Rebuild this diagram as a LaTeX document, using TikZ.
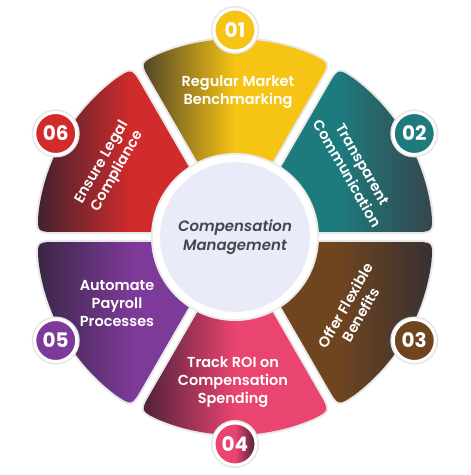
\documentclass[tikz,border=0pt]{standalone}
\usepackage{fontspec}
\setmainfont{Poppins}[UprightFont=* SemiBold, BoldFont=* Bold, ItalicFont=* SemiBold Italic, BoldItalicFont=* Bold Italic]
\usetikzlibrary{calc}
\definecolor{c1}{HTML}{F6C414}\definecolor{c1d}{HTML}{4E4328}
\definecolor{c2}{HTML}{1D7B7D}\definecolor{c2d}{HTML}{36454D}
\definecolor{c3}{HTML}{6F4520}\definecolor{c3d}{HTML}{383032}
\definecolor{c4}{HTML}{EA4470}\definecolor{c4d}{HTML}{4B2038}
\definecolor{c5}{HTML}{7D3A99}\definecolor{c5d}{HTML}{3A2646}
\definecolor{c6}{HTML}{D22B2B}\definecolor{c6d}{HTML}{40222E}
\definecolor{corefill}{HTML}{E9ECF8}
\definecolor{coretext}{HTML}{45474F}
\newcommand\petalshape[2]{%
  \path[#2] (#1:10pt) -- ($({#1-28.55}:198pt)+({#1+150}:20pt)$)
    .. controls ({#1-28.55}:198pt) .. ({#1-22.8}:198pt)
    arc[start angle={#1-22.8}, end angle={#1+22.8}, radius=198pt]
    .. controls ({#1+28.55}:198pt) .. ($({#1+28.55}:198pt)+({#1+210}:20pt)$)
    -- cycle;}
\begin{document}
\begin{tikzpicture}[x=1pt,y=1pt,
  ptext/.style={text=white, align=center, font=\fontsize{14.5}{18}\selectfont},
  numnode/.style={circle, draw=white, line width=3pt, minimum size=42pt, inner sep=0pt,
    text=white, font=\bfseries\fontsize{20}{20}\selectfont,
    preaction={draw=black!10, line width=6pt}},
  halo/.style={preaction={draw=black!9, line width=4pt}}]
\useasboundingbox (-235,-238) rectangle (236,237);
\fill[white] (-235,-238) rectangle (236,237);
\petalshape{90}{halo, left color=c1d, right color=c1, middle color=c1}
\petalshape{30}{halo, left color=c2, right color=c2d, middle color=c2}
\petalshape{-30}{halo, left color=c3, right color=c3d, middle color=c3}
\petalshape{-90}{halo, left color=c4d, right color=c4, middle color=c4}
\petalshape{-150}{halo, left color=c5d, right color=c5, middle color=c5}
\petalshape{150}{halo, left color=c6d, right color=c6, middle color=c6}
\node[circle, fill=corefill, draw=white, line width=7pt, minimum size=157pt,
  preaction={draw=black!8, line width=11pt}, text=coretext, align=center,
  font=\itshape\fontsize{15}{19}\selectfont] (core) at (0,0) {Compensation\\Management};
\node[ptext] (t1) at (3,145) {Regular Market\\Benchmarking};
\node[ptext, rotate=-60] (t2) at (120,68) {Transparent\\Communication};
\node[ptext, rotate=60] (t3) at (118,-73) {Offer Flexible\\Benefits};
\node[ptext] (t4) at (-2,-145) {Track ROI on\\Compensation\\Spending};
\node[ptext] (t5) at (-118,-66) {Automate\\Payroll\\Processes};
\node[ptext, rotate=60] (t6) at (-125,70) {Ensure Legal\\Compliance};
\node[numnode, fill=c1] (n1) at (90:207pt) {01};
\node[numnode, fill=c2] (n2) at (30:207pt) {02};
\node[numnode, fill=c3] (n3) at (-30:207pt) {03};
\node[numnode, left color=c4, right color=c4d, middle color=c4] (n4) at (-90:207pt) {04};
\node[numnode, fill=c5] (n5) at (-150:207pt) {05};
\node[numnode, fill=c6] (n6) at (150:207pt) {06};
\end{tikzpicture}
\end{document}
